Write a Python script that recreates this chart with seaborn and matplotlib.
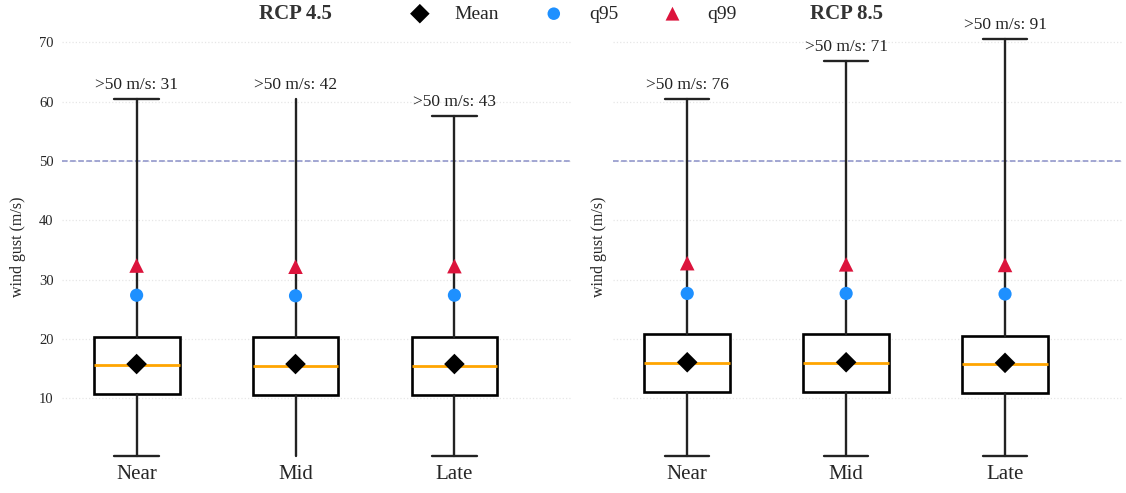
import matplotlib
matplotlib.use("Agg")
import matplotlib.pyplot as plt
import seaborn as sns
import numpy as np

periods = ["Near", "Mid", "Late"]
scenarios = ["RCP 4.5", "RCP 8.5"]

# box statistics (m/s)
whislo = {"RCP 4.5": [0.3, 0.3, 0.3], "RCP 8.5": [0.3, 0.3, 0.3]}
q1 = {"RCP 4.5": [10.7, 10.6, 10.6], "RCP 8.5": [11.1, 11.1, 10.9]}
med = {"RCP 4.5": [15.6, 15.4, 15.4], "RCP 8.5": [15.95, 16.0, 15.8]}
q3 = {"RCP 4.5": [20.4, 20.3, 20.3], "RCP 8.5": [20.8, 20.8, 20.6]}
whishi = {"RCP 4.5": [60.4, 60.4, 57.6], "RCP 8.5": [60.5, 66.8, 70.6]}
means = {"RCP 4.5": [15.8, 15.8, 15.8], "RCP 8.5": [16.1, 16.1, 16.0]}
q95 = {"RCP 4.5": [27.4, 27.3, 27.4], "RCP 8.5": [27.7, 27.7, 27.6]}
q99 = {"RCP 4.5": [32.4, 32.2, 32.3], "RCP 8.5": [32.8, 32.6, 32.5]}
n_over50 = {"RCP 4.5": [31, 42, 43], "RCP 8.5": [76, 71, 91]}
threshold = 50

sns.set_style("white")
plt.rcParams["font.family"] = ["Liberation Serif", "DejaVu Serif"]

fig = plt.figure(figsize=(11.26, 4.93), dpi=100)
ax1 = fig.add_axes([0.055, 0.063, 0.453, 0.875])
ax2 = fig.add_axes([0.544, 0.063, 0.453, 0.875], sharey=ax1)

for ax, sc in zip([ax1, ax2], scenarios):
    pos = np.arange(len(periods))
    stats = []
    for i, p in enumerate(periods):
        stats.append({"label": p, "whislo": whislo[sc][i], "q1": q1[sc][i],
                      "med": med[sc][i], "q3": q3[sc][i],
                      "whishi": whishi[sc][i], "fliers": []})
    caps = [0.28, 0.0, 0.28] if sc == "RCP 4.5" else [0.28, 0.28, 0.28]
    ax.bxp(stats, positions=pos, widths=0.54, capwidths=caps,
           patch_artist=True, showfliers=False,
           boxprops=dict(facecolor="white", edgecolor="black", linewidth=1.9),
           whiskerprops=dict(color="#222222", linewidth=1.7),
           capprops=dict(color="#222222", linewidth=1.7),
           medianprops=dict(color="#FFA500", linewidth=2))

    ax.axhline(threshold, color="#8a90c8", linestyle="--", linewidth=1.1, zorder=1)

    sns.scatterplot(x=pos, y=means[sc], marker="D", color="black", s=110,
                    edgecolor="none", ax=ax, zorder=5, label="Mean")
    sns.scatterplot(x=pos, y=q95[sc], marker="o", color="#1E90FF", s=90,
                    edgecolor="none", ax=ax, zorder=5, label="q95")
    sns.scatterplot(x=pos, y=q99[sc], marker="^", color="#DC143C", s=110,
                    edgecolor="none", ax=ax, zorder=5, label="q99")

    for i in pos:
        ax.text(i, whishi[sc][i] + 1.0, f">50 m/s: {n_over50[sc][i]}",
                ha="center", va="bottom", fontsize=12.5, color="#222222")

    ax.text(1, 1.015, sc, transform=ax.get_xaxis_transform(), ha="center",
            va="bottom", fontsize=15, fontweight="bold", color="#333333")

    ax.set_xlim(-0.47, 2.74)
    ax.set_ylim(-0.7, 72)
    ax.set_yticks([10, 20, 30, 40, 50, 60, 70])
    ax.set_xticks(pos)
    ax.set_xticklabels(periods, fontsize=15)
    ax.grid(axis="y", color="#e6e6e6", linestyle=":", linewidth=0.9)
    ax.set_axisbelow(True)
    ax.tick_params(axis="both", length=0)
    ax.tick_params(axis="y", labelsize=10.5, pad=6)
    ax.tick_params(axis="x", pad=2)
    for s in ax.spines.values():
        s.set_visible(False)
    ax.set_ylabel("wind gust (m/s)", fontsize=11.5)
    if ax.get_legend() is not None:
        ax.get_legend().remove()

ax2.tick_params(axis="y", labelleft=False)
ax2.set_ylabel("wind gust (m/s)", fontsize=11.5, labelpad=4)
ax1.yaxis.set_label_coords(-0.07, 0.5)

handles, labels = ax1.get_legend_handles_labels()
fig.legend(handles, labels, loc="upper center", bbox_to_anchor=(0.505, 1.025),
           ncol=3, frameon=False, fontsize=14, handletextpad=0.8,
           columnspacing=1.8, markerscale=0.95)

fig.savefig("out.png", dpi=100)
